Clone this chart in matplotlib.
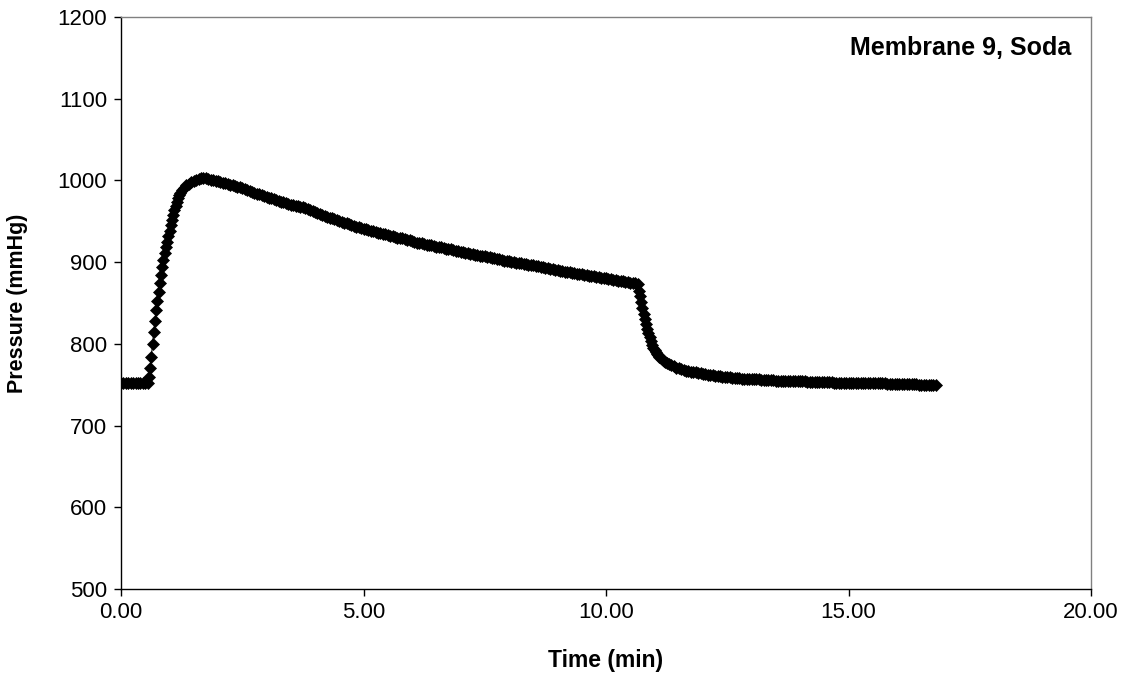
import numpy as np
import matplotlib
matplotlib.use("Agg")
import matplotlib.pyplot as plt

# ---------- data ----------
# time (min); sampling is denser where the pressure changes fast
time_min = [
    0.00, 0.05, 0.10, 0.15, 0.20, 0.25, 0.30, 0.35, 0.40, 0.45, 0.50, 0.55,
    # rise
    0.575, 0.600, 0.625, 0.650, 0.675, 0.700, 0.725, 0.750, 0.775, 0.800,
    0.825, 0.850, 0.875, 0.900, 0.925, 0.950, 0.975, 1.000, 1.025, 1.050,
    1.075, 1.100, 1.125, 1.150, 1.175, 1.200, 1.225, 1.250,
    # peak and slow decay
    1.30, 1.35, 1.40, 1.45, 1.50, 1.55, 1.60, 1.65, 1.70, 1.75, 1.80, 1.85, 1.90, 1.95,
    2.00, 2.05, 2.10, 2.15, 2.20, 2.25, 2.30, 2.35, 2.40, 2.45, 2.50, 2.55, 2.60, 2.65, 2.70, 2.75, 2.80, 2.85, 2.90, 2.95,
    3.00, 3.05, 3.10, 3.15, 3.20, 3.25, 3.30, 3.35, 3.40, 3.45, 3.50, 3.55, 3.60, 3.65, 3.70, 3.75, 3.80, 3.85, 3.90, 3.95,
    4.00, 4.05, 4.10, 4.15, 4.20, 4.25, 4.30, 4.35, 4.40, 4.45, 4.50, 4.55, 4.60, 4.65, 4.70, 4.75, 4.80, 4.85, 4.90, 4.95,
    5.00, 5.05, 5.10, 5.15, 5.20, 5.25, 5.30, 5.35, 5.40, 5.45, 5.50, 5.55, 5.60, 5.65, 5.70, 5.75, 5.80, 5.85, 5.90, 5.95,
    6.00, 6.05, 6.10, 6.15, 6.20, 6.25, 6.30, 6.35, 6.40, 6.45, 6.50, 6.55, 6.60, 6.65, 6.70, 6.75, 6.80, 6.85, 6.90, 6.95,
    7.00, 7.05, 7.10, 7.15, 7.20, 7.25, 7.30, 7.35, 7.40, 7.45, 7.50, 7.55, 7.60, 7.65, 7.70, 7.75, 7.80, 7.85, 7.90, 7.95,
    8.00, 8.05, 8.10, 8.15, 8.20, 8.25, 8.30, 8.35, 8.40, 8.45, 8.50, 8.55, 8.60, 8.65, 8.70, 8.75, 8.80, 8.85, 8.90, 8.95,
    9.00, 9.05, 9.10, 9.15, 9.20, 9.25, 9.30, 9.35, 9.40, 9.45, 9.50, 9.55, 9.60, 9.65, 9.70, 9.75, 9.80, 9.85, 9.90, 9.95,
    10.00, 10.05, 10.10, 10.15, 10.20, 10.25, 10.30, 10.35, 10.40, 10.45, 10.50, 10.55, 10.60, 10.65,
    # drop
    10.675, 10.700, 10.725, 10.750, 10.775, 10.800, 10.825, 10.850, 10.875, 10.900,
    10.925, 10.950, 10.975, 11.000, 11.025, 11.050, 11.075, 11.100, 11.125, 11.150,
    11.175, 11.200, 11.225, 11.250,
    # recovery tail
    11.30, 11.35, 11.40, 11.45, 11.50, 11.55, 11.60, 11.65, 11.70, 11.75, 11.80, 11.85, 11.90, 11.95,
    12.00, 12.05, 12.10, 12.15, 12.20, 12.25, 12.30, 12.35, 12.40, 12.45, 12.50, 12.55, 12.60, 12.65, 12.70, 12.75, 12.80, 12.85, 12.90, 12.95,
    13.00, 13.05, 13.10, 13.15, 13.20, 13.25, 13.30, 13.35, 13.40, 13.45, 13.50, 13.55, 13.60, 13.65, 13.70, 13.75, 13.80, 13.85, 13.90, 13.95,
    14.00, 14.05, 14.10, 14.15, 14.20, 14.25, 14.30, 14.35, 14.40, 14.45, 14.50, 14.55, 14.60, 14.65, 14.70, 14.75, 14.80, 14.85, 14.90, 14.95,
    15.00, 15.05, 15.10, 15.15, 15.20, 15.25, 15.30, 15.35, 15.40, 15.45, 15.50, 15.55, 15.60, 15.65, 15.70, 15.75, 15.80, 15.85, 15.90, 15.95,
    16.00, 16.05, 16.10, 16.15, 16.20, 16.25, 16.30, 16.35, 16.40, 16.45, 16.50, 16.55, 16.60, 16.65, 16.70, 16.75, 16.80,
]

# pressure (mmHg), same layout as time_min
pressure_mmHg = [
    752, 752, 752, 752.5, 752, 752, 752, 752, 752, 752, 752, 752.5,
    760, 771, 784, 800, 815, 828, 841, 852, 864, 875,
    884, 894, 903, 911, 918, 925, 932, 938, 945, 952,
    958, 964, 969, 974, 978, 982, 985, 988,
    991, 994, 996, 998, 999.5, 1001, 1002, 1002.5, 1003, 1002.5, 1001.5, 1001, 1000, 999.5,
    999, 998, 997, 996.5, 996, 995, 994, 993, 992.5, 991.5, 990.5, 989.5, 988, 987, 986, 985, 984, 983, 982, 981,
    980, 979, 978, 977, 976, 975, 974, 973, 972.5, 971.5, 970.5, 970, 969, 968.5, 968, 967, 966, 965, 964, 963,
    961.5, 960.5, 959, 958, 957, 955.5, 954.5, 953.5, 952.5, 951.5, 950.5, 949.5, 948.5, 947.5, 946.5, 945.5, 944.5, 943.5, 942.5, 941.5,
    941, 940, 939, 938.5, 938, 937, 936, 935.5, 935, 934, 933, 932.5, 932, 931, 930, 929.5, 929, 928, 927, 926.5,
    926, 925, 924, 923.5, 923, 922, 921.5, 921, 920.5, 919.5, 919, 918.5, 918, 917, 916.5, 916, 915.5, 914.5, 914, 913.5,
    913, 912, 911.5, 911, 910.5, 909.5, 909, 908.5, 908, 907.5, 907, 906.5, 906, 905, 904.5, 904, 903.5, 902.5, 902, 901.5,
    901, 900.5, 900, 899.5, 899, 898.5, 898, 897.5, 897, 896.5, 896, 895.5, 895, 894, 893.5, 893, 892.5, 891.5, 891, 890.5,
    890, 889.5, 889, 888.5, 888, 887.5, 887, 886.5, 886, 885.5, 885, 884.5, 884, 883.5, 883, 882.5, 882, 881.5, 881, 880.5,
    880, 879.5, 879, 878.5, 878, 877.5, 877, 876.5, 876, 875.5, 875, 874.5, 874, 873,
    865, 858, 851, 844, 837, 830, 824, 818, 813, 808,
    803, 799, 795, 792, 790, 788, 786, 784, 782.5, 781,
    780, 779, 778, 777,
    775.5, 774, 772.5, 771, 770, 769, 768, 767, 766.5, 766, 765.5, 765, 764.5, 764,
    763.5, 763, 762.5, 762, 761.5, 761, 760.5, 760.5, 760, 759.5, 759, 759, 758.5, 758.5, 758, 758, 757.5, 757.5, 757, 757,
    757, 756.5, 756.5, 756.5, 756, 756, 756, 755.5, 755.5, 755.5, 755, 755, 755, 755, 754.5, 754.5, 754.5, 754.5, 754, 754,
    754, 754, 754, 753.5, 753.5, 753.5, 753.5, 753.5, 753, 753, 753, 753, 753, 753, 752.5, 752.5, 752.5, 752.5, 752.5, 752.5,
    752.5, 752, 752, 752, 752, 752, 752, 752, 752, 751.5, 751.5, 751.5, 751.5, 751.5, 751.5, 751.5, 751, 751, 751, 751,
    751, 751, 751, 750.5, 750.5, 750.5, 750.5, 750.5, 750.5, 750, 750, 750, 750, 750, 750, 750, 750,
]

x_ticks = [0, 5, 10, 15, 20]
y_ticks = [500, 600, 700, 800, 900, 1000, 1100, 1200]
series_label = "Membrane 9, Soda"

plt.rcParams["font.family"] = ["Liberation Sans", "DejaVu Sans"]

fig = plt.figure(figsize=(11.3, 6.83), dpi=100)
ax = fig.add_axes([121 / 1130, 1 - 589 / 683, 970 / 1130, 572 / 683])

ax.plot(time_min, pressure_mmHg, color="black", linewidth=0.8,
        marker="D", markersize=5.8, markerfacecolor="black",
        markeredgecolor="black", markeredgewidth=0.5)

ax.set_xlim(0, 20)
ax.set_ylim(500, 1200)
ax.set_xticks(x_ticks)
ax.set_xticklabels([f"{v:.2f}" for v in x_ticks])
ax.set_yticks(y_ticks)
ax.tick_params(direction="out", length=5, width=1, labelsize=16, color="black")
ax.tick_params(axis="x", pad=4)
ax.tick_params(axis="y", pad=5)

for side in ("left", "bottom"):
    ax.spines[side].set_color("black")
    ax.spines[side].set_linewidth(1)
for side in ("top", "right"):
    ax.spines[side].set_color("#808080")
    ax.spines[side].set_linewidth(1)

ax.set_xlabel("Time (min)", fontsize=16.5, fontweight="bold", va="center")
ax.xaxis.set_label_coords(0.5, (589 - 661) / 572)
ax.set_ylabel("Pressure (mmHg)", fontsize=15.5, fontweight="bold", va="center")
ax.yaxis.set_label_coords((18 - 121) / 970, 0.5)

ax.text(0.9795, 0.945, series_label, transform=ax.transAxes, ha="right",
        va="center", fontsize=18, fontweight="bold")

fig.savefig("out.png", dpi=100)
